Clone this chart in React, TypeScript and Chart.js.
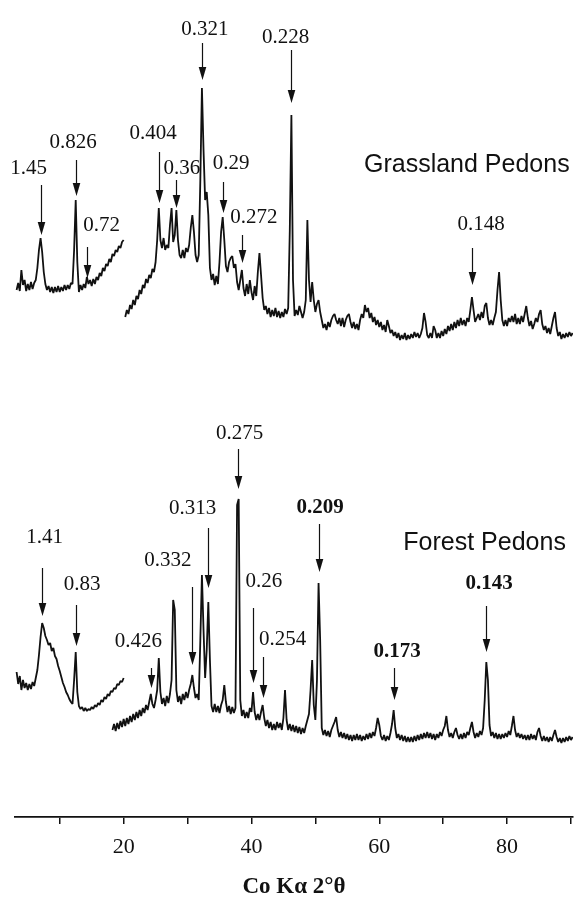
import React, { useEffect, useRef } from 'react';
import { Chart, registerables } from 'chart.js';

Chart.register(...registerables);

// Step-scan sampling (degrees 2θ) of the diffractometer traces
const STEP = 0.25;

// Grassland pedons – low-angle segment (starts at 3.25° 2θ)
const GRASS_LOW_START = 3.25;
const grassLowCounts = [
  527, 534, 526, 547, 532, 537, 526, 533, 527, 535,
  528, 534, 537, 549, 567, 579, 565, 545, 533, 527,
  531, 525, 530, 524, 530, 525, 531, 525, 530, 526,
  532, 527, 532, 528, 534, 533, 567, 617, 555, 525,
  532, 527, 533, 529, 540, 533, 537, 531, 538, 533,
  540, 537, 544, 541, 549, 546, 553, 551, 558, 555,
  563, 561, 567, 565, 571, 569, 575, 577,
];

// Grassland pedons – main segment (starts at 20.25° 2θ)
const GRASS_MAIN_START = 20.25;
const grassMainCounts = [
  500, 507, 503, 512, 508, 517, 512, 521, 518, 527, 523, 532, 529, 538, 534, 542, 539, 548, 545, 555,
  577, 609, 577, 569, 579, 567, 572, 569, 592, 609, 575, 582, 607, 577, 562, 559, 567, 559, 569, 565,
  572, 589, 602, 585, 562, 555, 562, 637, 729, 667, 617, 625, 602, 549, 537, 543, 532, 541, 533, 555,
  585, 600, 577, 551, 545, 555, 559, 561, 549, 553, 535, 527, 537, 547, 529, 521, 533, 523, 537, 525,
  517, 531, 521, 545, 564, 542, 519, 507, 511, 503, 509, 500, 507, 501, 509, 500, 506, 499, 505, 500,
  508, 503, 509, 587, 702, 537, 501, 507, 502, 511, 505, 499, 505, 517, 597, 537, 515, 535, 517, 505,
  513, 517, 505, 497, 489, 493, 487, 495, 490, 497, 501, 503, 497, 493, 499, 491, 499, 490, 497, 501,
  503, 495, 489, 495, 488, 493, 487, 497, 503, 499, 512, 505, 509, 499, 504, 495, 500, 492, 497, 490,
  495, 487, 492, 485, 497, 491, 484, 487, 481, 485, 479, 484, 477, 482, 478, 484, 477, 482, 478, 483,
  479, 485, 480, 484, 479, 483, 489, 504, 495, 482, 479, 484, 479, 491, 487, 479, 484, 479, 486, 481,
  488, 483, 491, 486, 493, 487, 495, 489, 497, 491, 499, 492, 497, 491, 499, 495, 507, 520, 507, 495,
  499, 503, 497, 505, 499, 511, 514, 499, 492, 497, 492, 499, 505, 527, 545, 517, 497, 491, 497, 491,
  499, 495, 501, 495, 503, 493, 499, 493, 501, 495, 503, 511, 499, 491, 496, 488, 493, 499, 495, 503,
  507, 493, 487, 491, 484, 489, 483, 491, 499, 505, 489, 481, 485, 478, 483, 479, 484, 480, 485, 481,
  484,
];

// Forest pedons – low-angle segment (starts at 3.25° 2θ)
const FOREST_LOW_START = 3.25;
const forestLowCounts = [
  145, 133, 141, 127, 137, 129, 134, 127, 133, 128,
  135, 131, 139, 147, 162, 180, 194, 189, 181, 177,
  172, 174, 166, 169, 161, 158, 151, 146, 140, 134,
  130, 125, 122, 118, 115, 113, 137, 165, 125, 111,
  108, 110, 106, 109, 106, 108, 107, 110, 108, 112,
  110, 114, 112, 117, 115, 120, 118, 123, 121, 126,
  125, 129, 128, 133, 132, 136, 135, 139,
];

// Forest pedons – main segment (starts at 18.25° 2θ)
const FOREST_MAIN_START = 18.25;
const forestMainCounts = [
  87, 93, 86, 94, 88, 96, 90, 98, 91, 99, 93, 101, 95, 103, 97, 105, 99, 107, 101, 109,
  104, 112, 107, 115, 123, 113, 109, 117, 127, 159, 125, 113, 119, 111, 121, 114, 123, 137, 217, 207,
  127, 115, 121, 113, 123, 117, 125, 119, 127, 133, 142, 129, 119, 123, 117, 177, 242, 187, 139, 167,
  215, 157, 111, 105, 113, 105, 111, 104, 112, 117, 132, 115, 105, 111, 103, 110, 104, 109, 312, 318,
  117, 101, 107, 99, 105, 99, 109, 105, 125, 105, 97, 103, 97, 105, 112, 99, 91, 97, 89, 95,
  87, 93, 87, 95, 89, 94, 87, 99, 127, 97, 87, 93, 86, 92, 85, 91, 84, 90, 83, 89,
  84, 91, 97, 103, 127, 157, 112, 97, 137, 234, 177, 89, 82, 87, 81, 86, 80, 87, 91, 95,
  100, 87, 80, 85, 79, 84, 78, 83, 77, 82, 76, 82, 77, 83, 77, 82, 76, 81, 77, 83,
  78, 84, 79, 85, 81, 89, 99, 92, 81, 77, 82, 76, 81, 77, 84, 93, 107, 89, 79, 83,
  77, 82, 76, 81, 75, 80, 75, 80, 75, 81, 76, 82, 77, 83, 78, 84, 79, 85, 79, 84,
  78, 83, 77, 83, 79, 85, 81, 87, 91, 101, 87, 80, 84, 79, 85, 89, 82, 78, 83, 78,
  84, 79, 85, 82, 89, 95, 85, 79, 84, 80, 86, 82, 89, 117, 155, 137, 92, 81, 85, 79,
  84, 78, 83, 78, 83, 79, 84, 80, 86, 82, 91, 101, 87, 80, 84, 79, 83, 78, 82, 77,
  82, 77, 83, 78, 82, 77, 85, 89, 81, 76, 81, 76, 80, 75, 80, 76, 82, 87, 80, 75,
  79, 74, 79, 75, 80, 76, 81, 77, 80,
];

// Axis
const X_MIN = 3;
const X_MAX = 90.3;
const Y_MAX = 817;
const tickValues = [10, 20, 30, 40, 50, 60, 70, 80, 90];
const tickLabels = ['', '20', '', '40', '', '60', '', '80', ''];
const axisTitle = 'Co Kα 2°θ';

// Grassland d-spacing annotations (nm)
const grassPeakLabels = ['1.45', '0.826', '0.72', '0.404', '0.36', '0.321', '0.29', '0.272', '0.228', '0.148'];
const grassArrowTheta = [7.0, 12.5, 14.2, 25.5, 28.25, 32.25, 35.5, 38.5, 46.25, 74.5];
const grassArrowTail = [632, 657, 570, 665, 637, 774, 635, 582, 767, 569];
const grassArrowTip = [582, 621, 539, 614, 609, 737, 604, 554, 714, 532];
const grassLabelTheta = [5.15, 12.1, 16.54, 24.62, 29.1, 32.73, 36.83, 40.39, 45.33, 75.94];
const grassLabelLevel = [649, 675, 592, 684, 649, 788, 654, 600, 780, 593];

// Forest d-spacing annotations (nm)
const forestPeakLabels = ['1.41', '0.83', '0.426', '0.332', '0.313', '0.275', '0.26', '0.254', '0.209', '0.173', '0.143'];
const forestArrowTheta = [7.25, 12.5, 24.25, 30.75, 33.25, 37.9, 40.25, 41.75, 50.5, 62.25, 76.75];
const forestArrowTail = [249, 212, 149, 230, 289, 368, 209, 160, 293, 149, 211];
const forestArrowTip = [201, 171, 129, 152, 229, 328, 134, 119, 245, 117, 165];
const forestLabelTheta = [7.62, 13.49, 22.3, 26.94, 30.8, 38.15, 41.93, 44.87, 50.74, 62.8, 77.17];
const forestLabelLevel = [280, 233, 176, 257, 309, 384, 236, 178, 309, 165, 233];
const forestLabelBold = [false, false, false, false, false, false, false, false, true, true, true];

// Sample group names
const groupNames = ['Grassland Pedons', 'Forest Pedons'];
const groupNameTheta = [73.7, 76.48];
const groupNameLevel = [652, 274];

const INK = '#111111';
const SERIF = '"Liberation Serif", "Times New Roman", serif';
const SANS = '"Liberation Sans", Arial, sans-serif';

function toPoints(start: number, counts: number[]) {
  return counts.map((c, i) => ({ x: Math.round((start + i * STEP) * 100) / 100, y: c }));
}

const annotationPlugin = {
  id: 'peakAnnotations',
  afterDatasetsDraw(chart: any) {
    const { ctx } = chart;
    const xs = chart.scales.x;
    const ys = chart.scales.y;
    ctx.save();
    const drawSet = (
      labels: string[], arrowTheta: number[], tails: number[], tips: number[],
      labelTheta: number[], labelLevel: number[], bold?: boolean[]
    ) => {
      labels.forEach((txt, i) => {
        const ax = Math.round(xs.getPixelForValue(arrowTheta[i])) + 0.5;
        const y0 = ys.getPixelForValue(tails[i]);
        const y1 = ys.getPixelForValue(tips[i]);
        const head = 13;
        ctx.strokeStyle = INK;
        ctx.lineWidth = 1.2;
        ctx.beginPath();
        ctx.moveTo(ax, y0);
        ctx.lineTo(ax, y1 - head + 1);
        ctx.stroke();
        ctx.fillStyle = INK;
        ctx.beginPath();
        ctx.moveTo(ax - 3.8, y1 - head);
        ctx.lineTo(ax + 3.8, y1 - head);
        ctx.lineTo(ax, y1);
        ctx.closePath();
        ctx.fill();
        ctx.font = `${bold && bold[i] ? 'bold ' : ''}21px ${SERIF}`;
        ctx.textAlign = 'center';
        ctx.textBaseline = 'middle';
        ctx.fillText(txt, xs.getPixelForValue(labelTheta[i]), ys.getPixelForValue(labelLevel[i]));
      });
    };
    drawSet(grassPeakLabels, grassArrowTheta, grassArrowTail, grassArrowTip, grassLabelTheta, grassLabelLevel);
    drawSet(forestPeakLabels, forestArrowTheta, forestArrowTail, forestArrowTip, forestLabelTheta, forestLabelLevel, forestLabelBold);

    ctx.font = `25px ${SANS}`;
    ctx.fillStyle = INK;
    ctx.textAlign = 'center';
    ctx.textBaseline = 'middle';
    groupNames.forEach((name, i) => {
      ctx.fillText(name, xs.getPixelForValue(groupNameTheta[i]), ys.getPixelForValue(groupNameLevel[i]));
    });
    ctx.restore();
  },
};

export default function App() {
  const canvasRef = useRef<HTMLCanvasElement | null>(null);

  useEffect(() => {
    document.body.style.margin = '0';
    const canvas = canvasRef.current;
    if (!canvas) return;
    const lineStyle = {
      borderColor: INK,
      borderWidth: 1.8,
      pointRadius: 0,
      tension: 0,
      fill: false,
      borderJoinStyle: 'bevel' as const,
    };
    const chart = new Chart(canvas, {
      type: 'line',
      data: {
        datasets: [
          { label: 'Grassland low', data: toPoints(GRASS_LOW_START, grassLowCounts), ...lineStyle },
          { label: 'Grassland', data: toPoints(GRASS_MAIN_START, grassMainCounts), ...lineStyle },
          { label: 'Forest low', data: toPoints(FOREST_LOW_START, forestLowCounts), ...lineStyle },
          { label: 'Forest', data: toPoints(FOREST_MAIN_START, forestMainCounts), ...lineStyle },
        ],
      },
      options: {
        animation: false,
        responsive: false,
        devicePixelRatio: 1,
        layout: { padding: { left: 15, right: 1.4, top: 0, bottom: 0 } },
        plugins: {
          legend: { display: false },
          tooltip: { enabled: false },
        },
        scales: {
          x: {
            type: 'linear',
            min: X_MIN,
            max: X_MAX,
            afterBuildTicks: (scale: any) => {
              scale.ticks = tickValues.map((v) => ({ value: v }));
            },
            grid: {
              drawOnChartArea: false,
              drawTicks: true,
              tickLength: 7,
              color: INK,
              lineWidth: 1.5,
            },
            border: { display: true, color: INK, width: 1.8 },
            ticks: {
              color: INK,
              padding: 10,
              maxRotation: 0,
              autoSkip: false,
              font: { family: SERIF, size: 22 },
              callback: (value: any) => {
                const idx = tickValues.indexOf(Number(value));
                return idx >= 0 ? tickLabels[idx] : '';
              },
            },
            title: {
              display: true,
              text: axisTitle,
              color: INK,
              font: { family: SERIF, size: 23, weight: 'bold' },
              padding: { top: 3, bottom: 0 },
            },
          },
          y: {
            type: 'linear',
            min: 0,
            max: Y_MAX,
            display: false,
          },
        },
      },
      plugins: [annotationPlugin],
    } as any);
    return () => chart.destroy();
  }, []);

  return <canvas ref={canvasRef} width={581} height={901} style={{ display: 'block' }} />;
}
